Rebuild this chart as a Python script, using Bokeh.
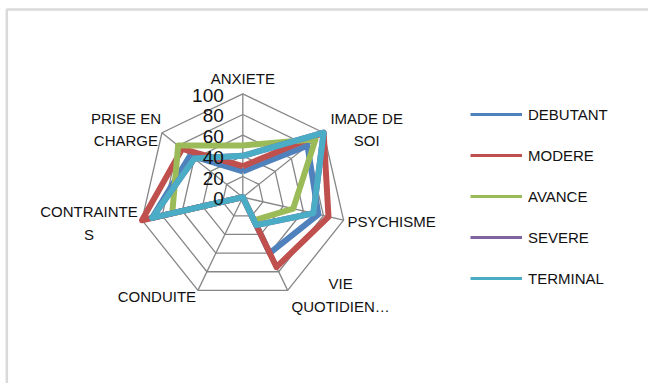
import numpy as np
from bokeh.plotting import figure
from bokeh.models import Range1d, Legend, LegendItem, ColumnDataSource, BoxAnnotation
from bokeh.core.properties import value
from bokeh.embed import file_html
from bokeh.resources import INLINE

# ---------------- data ----------------
categories = ["ANXIETE", "IMADE DE SOI", "PSYCHISME", "VIE QUOTIDIENNE",
              "CONDUITE", "CONTRAINTES", "PRISE EN CHARGE"]
category_labels = ["ANXIETE", "IMADE DE\nSOI", "PSYCHISME", "VIE\nQUOTIDIEN…",
                   "CONDUITE", "CONTRAINTE\nS", "PRISE EN\nCHARGE"]
radial_ticks = [0, 20, 40, 60, 80, 100]
tick_labels = ["0", "20", "40", "60", "80", "100"]

series_names = ["DEBUTANT", "MODERE", "AVANCE", "SEVERE", "TERMINAL"]
debutant = [25, 80, 75, 60, 0, 90, 65]
modere = [30, 100, 85, 75, 0, 100, 75]
avance = [50, 90, 50, 25, 0, 70, 80]
severe = [40, 100, 70, 30, 0, 90, 60]
terminal = [40, 100, 70, 30, 0, 90, 60]
series_values = [debutant, modere, avance, severe, terminal]

# ---------------- style / layout ----------------
colors = ["#4F81BD", "#C0504D", "#9BBB59", "#8064A2", "#4BACC6"]
W, H = 648, 383
CX, CY = 242.3, 196.7      # radar centre in pixels
S = 1.034                  # pixels per value unit
FONT = "Liberation Sans"
# pixel offsets of each category label (block centre) from its axis end
label_dx = [0, 43, 48, 53, -41, -53, -36]
label_dy = [-15.5, -3, 1.3, 4.6, 6, 2.8, -3.2]

n = len(categories)
theta = np.pi / 2 - np.arange(n) * 2 * np.pi / n
rmax = radial_ticks[-1]

p = figure(width=W, height=H, output_backend="svg", toolbar_location=None,
           x_axis_location=None, y_axis_location=None, min_border=0,
           x_range=Range1d(-CX / S, (W - CX) / S),
           y_range=Range1d(-(H - CY) / S, CY / S))
p.grid.visible = False
p.outline_line_color = None
p.background_fill_color = "white"
p.border_fill_color = "white"

# outer chart frame (only left and top edges are inside the window)
p.add_layout(BoxAnnotation(left=-CX / S + 6.3 / S, right=(W - CX) / S + 20,
                           top=CY / S - 9 / S, bottom=-(H - CY) / S - 20,
                           fill_color=None, line_color="#858585", line_width=2.5))

# grid rings and spokes
ring_xs, ring_ys = [], []
for t in radial_ticks[1:]:
    ring_xs.append(list(t * np.cos(np.append(theta, theta[0]))))
    ring_ys.append(list(t * np.sin(np.append(theta, theta[0]))))
for th in theta:
    ring_xs.append([0, rmax * np.cos(th)])
    ring_ys.append([0, rmax * np.sin(th)])
p.multi_line(ring_xs, ring_ys, line_color="#868686", line_width=1.3)

# series lines
legend_items = []
for name, vals, col in zip(series_names, series_values, colors):
    v = np.array(vals + vals[:1], dtype=float)
    th = np.append(theta, theta[0])
    p.line(v * np.cos(th), v * np.sin(th), line_color=col, line_width=6,
           line_join="round")
    dummy = p.line([np.nan], [np.nan], line_color=col, line_width=3)
    legend_items.append(LegendItem(label=name, renderers=[dummy]))

# radial tick labels
p.text(x=[0] * len(radial_ticks), y=radial_ticks, text=tick_labels,
       x_offset=-19, y_offset=1.5, text_align="right", text_baseline="middle",
       text_font=value(FONT), text_font_size="19px", text_color="#111111")

# category labels
src = ColumnDataSource(dict(x=rmax * np.cos(theta), y=rmax * np.sin(theta),
                            text=category_labels, dx=label_dx, dy=label_dy))
p.text(x="x", y="y", text="text", x_offset="dx", y_offset="dy", source=src,
       text_align="center", text_baseline="middle", text_line_height=1.3,
       text_font=value(FONT), text_font_size="15px", text_color="#111111")

legend = Legend(items=legend_items, location=(470, 95), orientation="vertical",
                glyph_width=52, glyph_height=20, label_standoff=6, spacing=21,
                padding=0, margin=0, border_line_alpha=0, background_fill_alpha=0,
                label_text_font=FONT, label_text_font_size="15px",
                label_text_color="#111111")
p.add_layout(legend)

open("out.html", "w").write(file_html(p, INLINE))
